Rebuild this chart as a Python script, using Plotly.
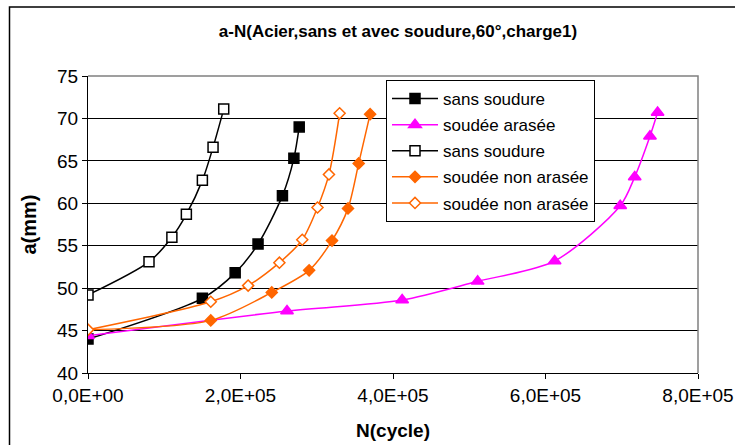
import plotly.graph_objects as go

# Crack length a (mm) versus number of cycles N
n_sans_plein = [0, 150000, 193000, 223000, 255000, 270000, 277000]
a_sans_plein = [44.0, 48.8, 51.8, 55.2, 60.9, 65.3, 69.0]

n_arasee = [0, 261000, 412000, 511000, 612000, 698000, 717000, 737000, 747000]
a_arasee = [44.4, 47.3, 48.6, 50.8, 53.2, 59.7, 63.1, 67.9, 70.7]

n_sans_vide = [0, 80000, 110000, 129000, 150000, 164000, 178000]
a_sans_vide = [49.2, 53.1, 56.0, 58.7, 62.7, 66.6, 71.1]

n_non_arasee_plein = [0, 161000, 241000, 290000, 320000, 341000, 355000, 370000]
a_non_arasee_plein = [45.1, 46.2, 49.5, 52.1, 55.6, 59.4, 64.7, 70.5]

n_non_arasee_vide = [0, 161000, 210000, 251000, 281000, 301000, 316000, 330000]
a_non_arasee_vide = [45.1, 48.4, 50.3, 53.0, 55.7, 59.5, 63.4, 70.6]

x_tick_vals = [0, 200000, 400000, 600000, 800000]
x_tick_labels = ["0,0E+00", "2,0E+05", "4,0E+05", "6,0E+05", "8,0E+05"]

FONT = "Liberation Sans, Arial, sans-serif"
BLACK = "#000000"
MAGENTA = "#FF00FF"
ORANGE = "#FF6600"

series = [
    ("sans soudure", n_sans_plein, a_sans_plein, BLACK, "square", BLACK, BLACK, 10),
    ("soudée arasée", n_arasee, a_arasee, MAGENTA, "triangle-up", MAGENTA, MAGENTA, 11),
    ("sans soudure", n_sans_vide, a_sans_vide, BLACK, "square", "white", BLACK, 10),
    ("soudée non arasée", n_non_arasee_plein, a_non_arasee_plein, ORANGE, "diamond", ORANGE, ORANGE, 8.5),
    ("soudée non arasée", n_non_arasee_vide, a_non_arasee_vide, ORANGE, "diamond", "white", ORANGE, 8.5),
]

fig = go.Figure()
for i, (name, xs, ys, lc, sym, fill, edge, size) in enumerate(series):
    fig.add_trace(go.Scatter(
        x=xs, y=ys, name=name, mode="lines+markers",
        legendgroup=f"g{i}",
        line=dict(color=lc, width=1.5, shape="spline", smoothing=0.8),
        marker=dict(symbol=sym, size=size, color=fill,
                    line=dict(color=edge, width=1.5)),
    ))

fig.update_layout(
    width=735, height=445,
    margin=dict(l=88, r=37, t=76, b=72),
    paper_bgcolor="white", plot_bgcolor="white",
    font=dict(family=FONT, color=BLACK),
    title=dict(
        text="<b>a-N(Acier,sans et avec soudure,60°,charge1)</b>",
        font=dict(size=17, family=FONT, color=BLACK),
        x=398 / 735, xanchor="center", xref="container",
        y=1 - 31 / 445, yanchor="middle", yref="container",
    ),
    legend=dict(
        x=(386 - 88) / 610, y=(373 - 80) / 297, xanchor="left", yanchor="top",
        bgcolor="white", bordercolor=BLACK, borderwidth=1,
        font=dict(size=17, family=FONT, color=BLACK),
        traceorder="grouped", tracegroupgap=1, itemwidth=46,
    ),
    showlegend=True,
)

fig.update_xaxes(
    range=[0, 800000], tickvals=x_tick_vals, ticktext=x_tick_labels,
    showgrid=False, zeroline=False,
    showline=True, linecolor=BLACK, linewidth=1,
    ticks="outside", ticklen=5, tickcolor=BLACK,
    tickfont=dict(size=19, family=FONT, color=BLACK),
    title=dict(text="<b>N(cycle)</b>", font=dict(size=19, family=FONT, color=BLACK), standoff=18),
    automargin=False,
)
fig.update_yaxes(
    range=[40, 75], dtick=5, tick0=40,
    showgrid=True, gridcolor=BLACK, gridwidth=1, zeroline=False,
    showline=True, linecolor=BLACK, linewidth=1,
    ticks="outside", ticklen=5, tickcolor=BLACK,
    tickfont=dict(size=19, family=FONT, color=BLACK),
    title=dict(text="<b>a(mm)</b>", font=dict(size=20, family=FONT, color=BLACK), standoff=15),
    automargin=False,
)

# grey plot-area border on the top and right sides
fig.add_shape(type="path", xref="paper", yref="paper",
              path="M0,1 L1,1 L1,0", line=dict(color="#808080", width=1.5),
              layer="above")
# outer chart frame
fig.add_shape(type="rect", xref="paper", yref="paper",
              x0=(9.5 - 88) / 610, x1=1.3, y0=-0.5, y1=(373 - 7) / 297,
              line=dict(color=BLACK, width=1.5), fillcolor="rgba(0,0,0,0)",
              layer="above")

fig.write_html("out.html")
